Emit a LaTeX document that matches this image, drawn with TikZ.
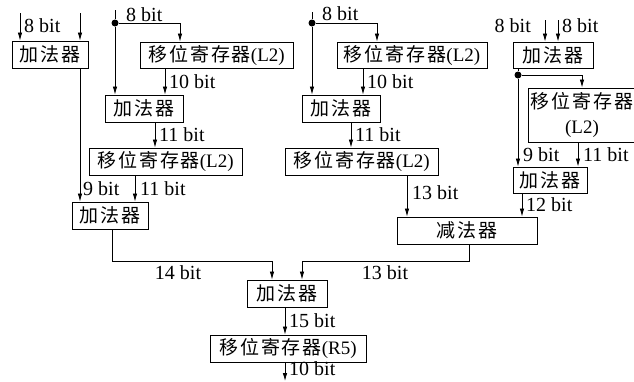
\documentclass[tikz,border=0pt]{standalone}
\usepackage{fontspec}
\setmainfont{Liberation Serif}
\newfontfamily\cjkfont[LetterSpace=10,Scale=1.0]{Noto Sans CJK SC}
\usetikzlibrary{arrows.meta}
\newcommand\zh[1]{{\cjkfont #1}}

\begin{document}
\begin{tikzpicture}[x=1pt,y=-1pt,
  box/.style={draw, line width=0.9pt, inner sep=0pt, font=\fontsize{19}{25}\selectfont},
  lbl/.style={inner sep=0pt, font=\fontsize{20}{22}\selectfont},
  arr/.style={line width=0.8pt, -{Latex[length=8pt,width=4.5pt]}},
  wire/.style={line width=0.8pt},
  dot/.style={circle, fill, inner sep=0pt, minimum size=7pt}]
\useasboundingbox (0,0) rectangle (634,381);

% ---- blocks ----
\node[box, minimum width=76pt,  minimum height=27pt] (A1) at (50,54.5)   {\zh{加法器}};
\node[box, minimum width=153pt, minimum height=26pt] (B1) at (216.5,55)  {\zh{移位寄存器}(L2)};
\node[box, minimum width=78pt,  minimum height=27pt] (C1) at (144,108.5) {\zh{加法器}};
\node[box, minimum width=153pt, minimum height=27pt] (D1) at (165.5,161.5) {\zh{移位寄存器}(L2)};
\node[box, minimum width=76pt,  minimum height=27pt] (E1) at (110,215.5) {\zh{加法器}};

\node[box, minimum width=150pt, minimum height=26pt] (B2) at (412,55)    {\zh{移位寄存器}(L2)};
\node[box, minimum width=78pt,  minimum height=27pt] (C2) at (341,108.5) {\zh{加法器}};
\node[box, minimum width=153pt, minimum height=27pt] (D2) at (361.5,161.5) {\zh{移位寄存器}(L2)};
\node[box, minimum width=140pt, minimum height=27pt] (H)  at (467,230.5) {\zh{减法器}};

\node[box, minimum width=80pt,  minimum height=26pt] (I)  at (553,55)    {\zh{加法器}};
\node[box, minimum width=108pt, minimum height=54pt, align=center] (J) at (582,115) {\zh{移位寄存器}\\(L2)};
\node[box, minimum width=74pt,  minimum height=26pt] (K)  at (550,180)   {\zh{加法器}};

\node[box, minimum width=80pt,  minimum height=27pt] (F)  at (287,293.5) {\zh{加法器}};
\node[box, minimum width=156pt, minimum height=27pt] (G)  at (288,348.5) {\zh{移位寄存器}(R5)};

% ---- column positions of the wires ----
\foreach \xx in {20,80,112,115,135,155,165,180,272,285,302,312,351,363,377,407,469,518,522,545,558,578,582}
  \coordinate (c\xx) at (\xx,0);
\coordinate (bus) at (0,261);

% ---- left branch ----
\coordinate (inA) at (20,13);
\coordinate (inB) at (80,13);
\draw[arr] (inA) -- (inA |- A1.north);
\draw[arr] (inB) -- (inB |- A1.north);
\node[lbl, anchor=west] (l1) at (24,26) {8 bit};

\node[dot] (d1) at (115,23) {};
\coordinate (t1) at (115,10);
\draw[wire] (t1) -- (d1);
\node[lbl, anchor=west] (l2) at (126,15) {8 bit};
\draw[arr] (d1) -| (B1.north -| c180);
\draw[arr] (d1) -- (d1 |- C1.north);
\draw[arr] (c165 |- B1.south) -- (c165 |- C1.north);
\node[lbl, anchor=west] (l3) at (169,82) {10 bit};
\draw[arr] (c155 |- C1.south) -- (c155 |- D1.north);
\node[lbl, anchor=west] (l4) at (159,135) {11 bit};
\draw[arr] (c80 |- A1.south) -- (c80 |- E1.north);
\node[lbl, anchor=west] (l5) at (83,189) {9 bit};
\draw[arr] (c135 |- D1.south) -- (c135 |- E1.north);
\node[lbl, anchor=west] (l6) at (140,189) {11 bit};

% ---- middle branch ----
\node[dot] (d2) at (312,23) {};
\coordinate (t2) at (312,12);
\draw[wire] (t2) -- (d2);
\node[lbl, anchor=west] (m1) at (322,14) {8 bit};
\draw[arr] (d2) -| (B2.north -| c377);
\draw[arr] (d2) -- (d2 |- C2.north);
\draw[arr] (c363 |- B2.south) -- (c363 |- C2.north);
\node[lbl, anchor=west] (m2) at (367,82) {10 bit};
\draw[arr] (c351 |- C2.south) -- (c351 |- D2.north);
\node[lbl, anchor=west] (m3) at (355,135) {11 bit};
\draw[arr] (c407 |- D2.south) -- (c407 |- H.north);
\node[lbl, anchor=west] (m4) at (412,193) {13 bit};

% ---- right branch ----
\coordinate (inC) at (545,20);
\coordinate (inD) at (558,20);
\draw[arr] (inC) -- (inC |- I.north);
\draw[arr] (inD) -- (inD |- I.north);
\node[lbl, anchor=east] (r1) at (531,26) {8 bit};
\node[lbl, anchor=west] (r2) at (562,26) {8 bit};

\node[dot] (d3) at (518,75) {};
\draw[wire] (c518 |- I.south) -- (d3);
\draw[arr] (d3) -| (J.north -| c582);
\draw[arr] (d3) -- (d3 |- K.north);
\node[lbl, anchor=west] (r3) at (523,155) {9 bit};
\draw[arr] (c578 |- J.south) -- (c578 |- K.north);
\node[lbl, anchor=west] (r4) at (583,155) {11 bit};
\draw[arr] (c522 |- K.south) -- (c522 |- H.north);
\node[lbl, anchor=west] (r5) at (526,205) {12 bit};

% ---- merge and output ----
\draw[arr] (c112 |- E1.south) -- (c112 |- bus) -- (c272 |- bus) -- (c272 |- F.north);
\node[lbl] (l7) at (178,273) {14 bit};
\draw[arr] (c469 |- H.south) -- (c469 |- bus) -- (c302 |- bus) -- (c302 |- F.north);
\node[lbl] (l8) at (385,273) {13 bit};
\draw[arr] (c285 |- F.south) -- (c285 |- G.north);
\node[lbl, anchor=west] (l9) at (289,321) {15 bit};
\coordinate (out) at (285,381);
\draw[arr] (c285 |- G.south) -- (out);
\node[lbl, anchor=west] (l10) at (289,369) {10 bit};
\end{tikzpicture}
\end{document}
